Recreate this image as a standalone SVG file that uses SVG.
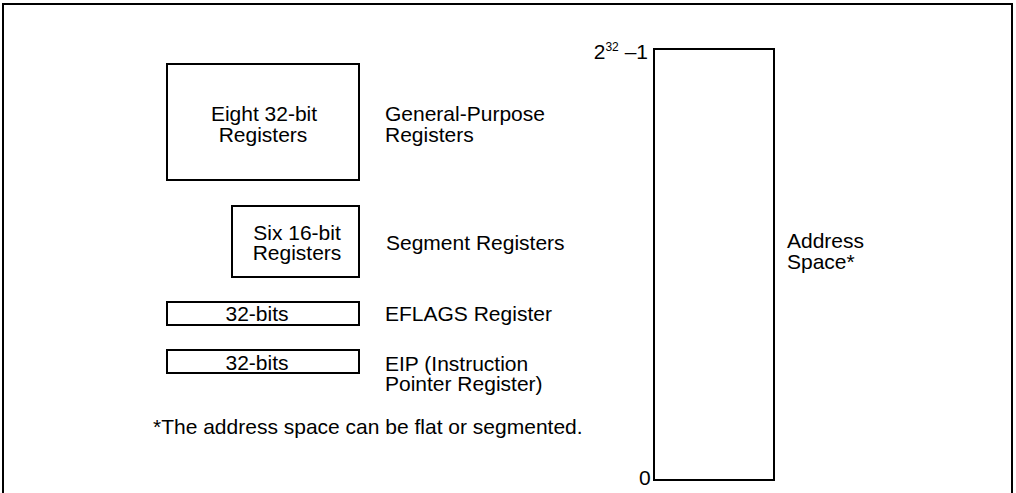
<svg xmlns="http://www.w3.org/2000/svg" width="1016" height="493" viewBox="0 0 1016 493">
<style>
.b{fill:none;stroke:#000;stroke-width:2}
text{font-family:"Liberation Sans",Arial,sans-serif;font-size:21px;fill:#000}
.c{text-anchor:middle}
</style>
<rect width="1016" height="493" fill="#fff"/>
<path class="b" d="M3,500 V4 H1012 V500"/>
<g id="gpr">
<rect class="b" x="167" y="64" width="192" height="116"/>
<text class="c" x="264" y="121">Eight 32-bit</text>
<text class="c" x="263" y="141.5">Registers</text>
<text x="385" y="121">General-Purpose</text>
<text x="385" y="141.5">Registers</text>
</g>
<g id="seg">
<rect class="b" x="232" y="206" width="127" height="71"/>
<text class="c" x="297" y="240">Six 16-bit</text>
<text class="c" x="297" y="260">Registers</text>
<text x="386" y="250">Segment Registers</text>
</g>
<g id="eflags">
<rect class="b" x="167" y="302" width="192" height="23"/>
<text class="c" x="257" y="321">32-bits</text>
<text x="385" y="321">EFLAGS Register</text>
</g>
<g id="eip">
<rect class="b" x="167" y="350" width="192" height="23"/>
<text class="c" x="257" y="370">32-bits</text>
<text x="385" y="371">EIP (Instruction</text>
<text x="385" y="391">Pointer Register)</text>
</g>
<text x="153" y="434">*The address space can be flat or segmented.</text>
<g id="addr">
<rect class="b" x="654" y="49" width="120" height="431"/>
<text x="648" y="59" text-anchor="end" font-size="20">2<tspan font-size="12" dy="-8">32</tspan><tspan dy="8"> –1</tspan></text>
<text x="639" y="485" font-size="20">0</text>
<text x="787" y="248">Address</text>
<text x="787" y="269">Space*</text>
</g>
</svg>
